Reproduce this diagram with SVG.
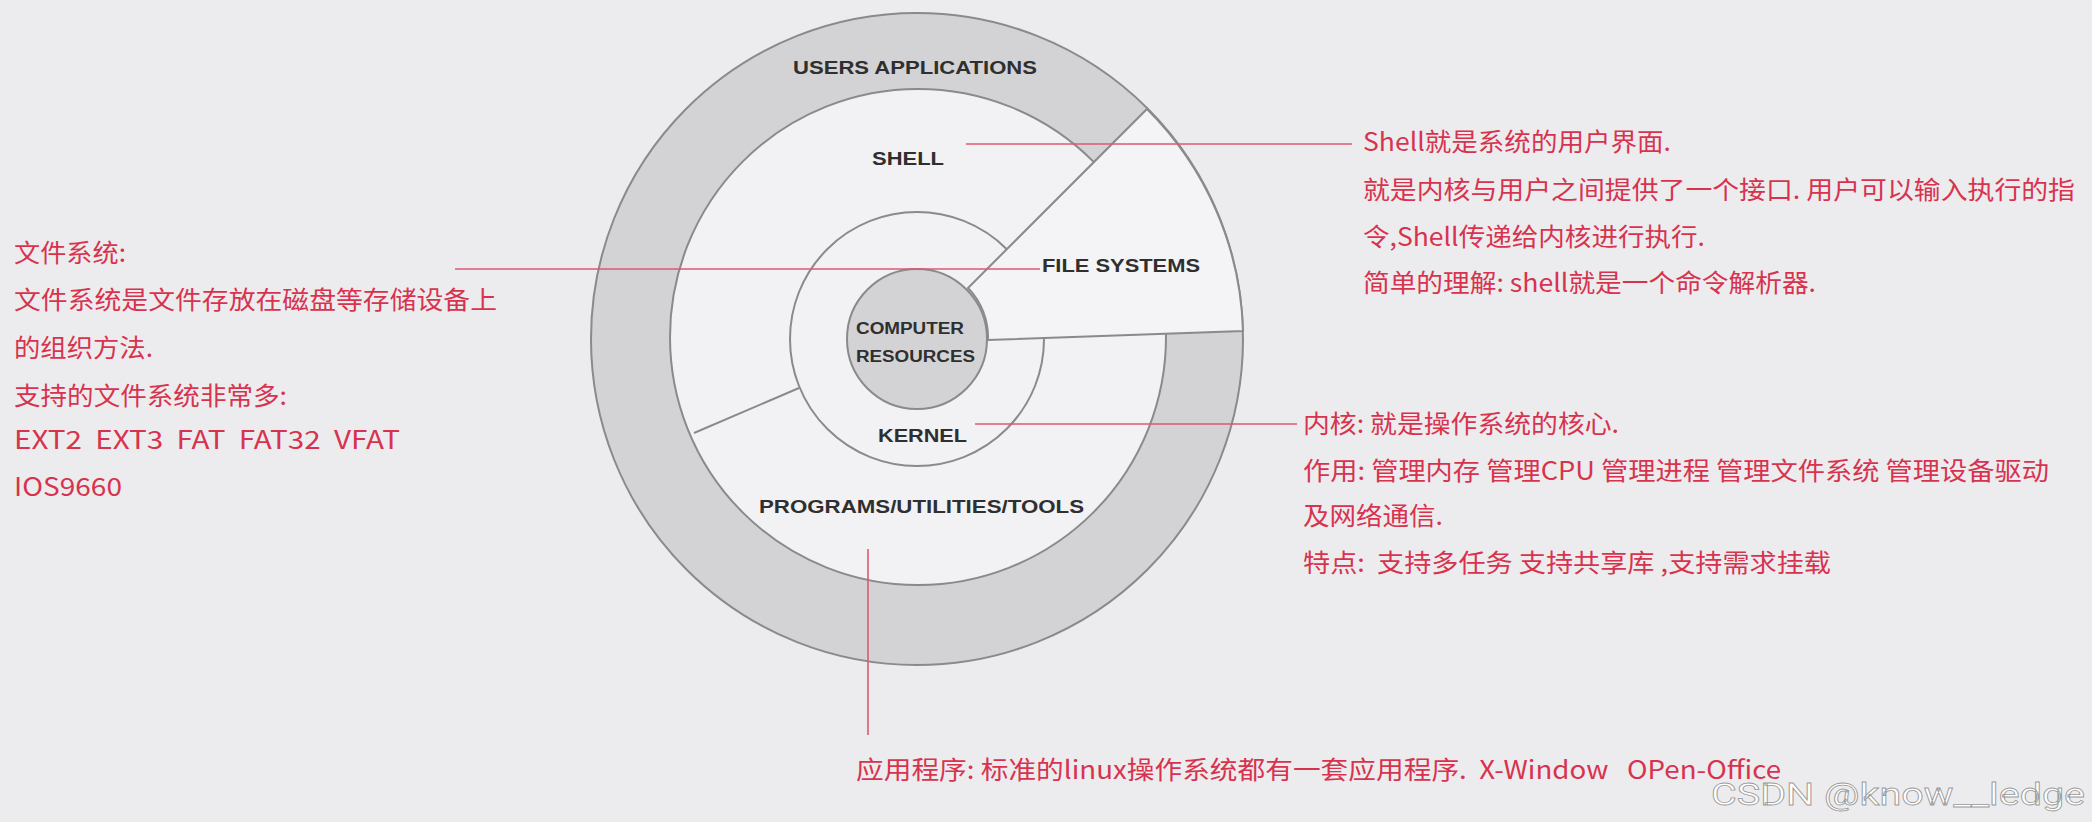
<svg xmlns="http://www.w3.org/2000/svg" width="2092" height="822" viewBox="0 0 2092 822">
<style>
.lbl{font-family:"Liberation Sans",Arial,sans-serif;font-weight:bold;fill:#2f2f2f;font-size:19px}
.sm{font-size:16px}
.note{font-family:"Noto Sans CJK SC","Liberation Sans",sans-serif;fill:#d8334e;font-size:25px}
.ring{stroke:#8a8a8a;stroke-width:2}
.lead{stroke:#dc5a72;stroke-width:1.6;fill:none}
</style>
<rect width="2092" height="822" fill="#ececee"/>
<g id="users-applications">
<circle class="ring" cx="917" cy="339" r="326" fill="#d3d3d5"/>
<text class="lbl" x="793" y="74" textLength="244" lengthAdjust="spacingAndGlyphs">USERS APPLICATIONS</text>
</g>
<g id="shell">
<circle class="ring" cx="918" cy="337" r="248" fill="#f2f2f4"/>
<text class="lbl" x="872" y="165" textLength="72" lengthAdjust="spacingAndGlyphs">SHELL</text>
</g>
<g id="kernel">
<circle class="ring" cx="917" cy="339" r="127" fill="#f2f2f4"/>
<text class="lbl" x="878" y="442" textLength="89" lengthAdjust="spacingAndGlyphs">KERNEL</text>
</g>
<g id="file-systems">
<path class="ring" d="M968,288 L1147,109 A326,326 0 0 1 1243,331 L988,340 A71,71 0 0 0 968,288 Z" fill="#f4f4f6"/>
<text class="lbl" x="1042" y="272" textLength="158" lengthAdjust="spacingAndGlyphs">FILE SYSTEMS</text>
</g>
<g id="programs">
<line class="ring" x1="694" y1="433" x2="799" y2="388"/>
<text class="lbl" x="759" y="513" textLength="325" lengthAdjust="spacingAndGlyphs">PROGRAMS/UTILITIES/TOOLS</text>
</g>
<g id="computer-resources">
<circle class="ring" cx="917" cy="339" r="70" fill="#d3d3d5"/>
<text class="lbl sm" x="856" y="334" textLength="108" lengthAdjust="spacingAndGlyphs">COMPUTER</text>
<text class="lbl sm" x="856" y="362" textLength="119" lengthAdjust="spacingAndGlyphs">RESOURCES</text>
</g>
<g id="connectors">
<line class="lead" x1="966" y1="144" x2="1352" y2="144"/>
<line class="lead" x1="455" y1="269" x2="1040" y2="269"/>
<line class="lead" x1="975" y1="424" x2="1297" y2="424"/>
<line class="lead" x1="868" y1="549" x2="868" y2="735"/>
</g>
<g id="note-shell">
<text class="note" x="1363" y="151" textLength="308" lengthAdjust="spacingAndGlyphs">Shell就是系统的用户界面.</text>
<text class="note" x="1363" y="199" textLength="712" lengthAdjust="spacingAndGlyphs">就是内核与用户之间提供了一个接口. 用户可以输入执行的指</text>
<text class="note" x="1363" y="246" textLength="342" lengthAdjust="spacingAndGlyphs">令,Shell传递给内核进行执行.</text>
<text class="note" x="1363" y="292" textLength="453" lengthAdjust="spacingAndGlyphs">简单的理解: shell就是一个命令解析器.</text>
</g>
<g id="note-filesystem">
<text class="note" x="14" y="262" textLength="112" lengthAdjust="spacingAndGlyphs">文件系统:</text>
<text class="note" x="14" y="309" textLength="483" lengthAdjust="spacingAndGlyphs">文件系统是文件存放在磁盘等存储设备上</text>
<text class="note" x="14" y="357" textLength="139" lengthAdjust="spacingAndGlyphs">的组织方法.</text>
<text class="note" x="14" y="405" textLength="273" lengthAdjust="spacingAndGlyphs">支持的文件系统非常多:</text>
<text class="note" x="14" y="449" textLength="386" lengthAdjust="spacingAndGlyphs" xml:space="preserve">EXT2  EXT3  FAT  FAT32  VFAT</text>
<text class="note" x="14" y="496" textLength="108" lengthAdjust="spacingAndGlyphs">IOS9660</text>
</g>
<g id="note-kernel">
<text class="note" x="1303" y="433" textLength="316" lengthAdjust="spacingAndGlyphs">内核: 就是操作系统的核心.</text>
<text class="note" x="1303" y="480" textLength="746" lengthAdjust="spacingAndGlyphs">作用: 管理内存 管理CPU 管理进程 管理文件系统 管理设备驱动</text>
<text class="note" x="1303" y="525" textLength="140" lengthAdjust="spacingAndGlyphs">及网络通信.</text>
<text class="note" x="1303" y="572" textLength="528" lengthAdjust="spacingAndGlyphs" xml:space="preserve">特点:  支持多任务 支持共享库 ,支持需求挂载</text>
</g>
<g id="note-programs">
<text class="note" x="856" y="779" textLength="925" lengthAdjust="spacingAndGlyphs" xml:space="preserve">应用程序: 标准的linux操作系统都有一套应用程序.  X-Window   OPen-Office</text>
</g>
<text x="1711" y="805" font-family="Roboto,'Liberation Sans',sans-serif" font-size="32" fill="#ffffff" stroke="#9a9a9a" stroke-width="0.8" textLength="374" lengthAdjust="spacingAndGlyphs">CSDN @know__ledge</text>
</svg>
